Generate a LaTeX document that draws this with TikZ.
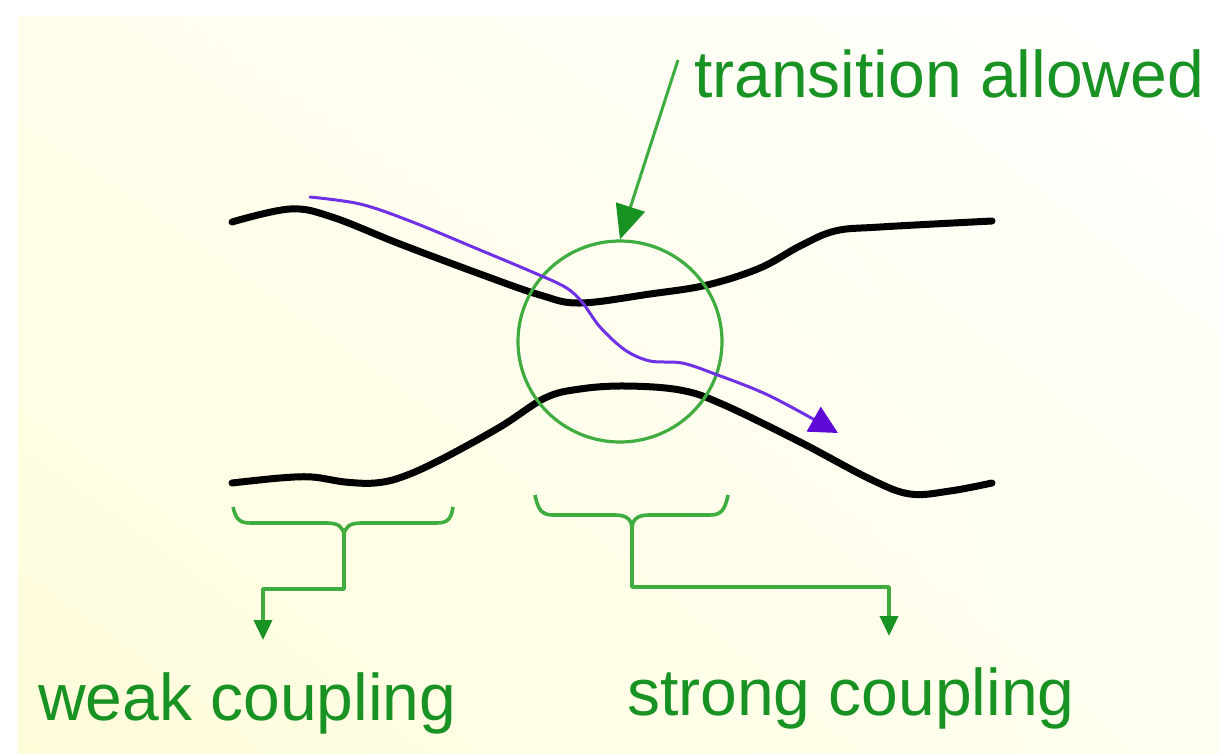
\documentclass[tikz,border=0pt]{standalone}
\usepackage{fontspec}
\setmainfont{Liberation Sans}
\usetikzlibrary{arrows.meta,shapes.geometric,shadings}
\definecolor{tgreen}{RGB}{24,146,34}
\definecolor{lgreen}{RGB}{62,172,62}
\definecolor{tpurple}{RGB}{112,48,230}
\definecolor{hpurple}{RGB}{95,10,215}
\definecolor{bgLL}{RGB}{255,252,218}
\definecolor{bgUL}{RGB}{255,254,236}
\definecolor{bgLR}{RGB}{255,255,240}
\tikzset{
  curve/.style={line width=7pt, black, line cap=round, line join=round},
  txtlabel/.style={text=tgreen, inner sep=0pt, anchor=base west, font=\fontsize{66}{72}\selectfont},
  bracepath/.style={draw=lgreen, line width=3.6pt, line join=round},
  zonestyle/.style={ellipse, draw=lgreen, line width=3.2pt, minimum width=204pt, minimum height=201pt, inner sep=0pt},
  stem/.style={lgreen, line width=3.6pt, line join=round, -{Triangle[length=20pt,width=18pt,color=tgreen]}},
}
\begin{document}
\begin{tikzpicture}[x=1pt,y=-1pt]
\useasboundingbox (0,0) rectangle (1219,753);
% background
\fill[white] (0,0) rectangle (1219,753);
\shade[lower left=bgLL, upper left=bgUL, lower right=bgLR, upper right=white] (18,16) rectangle (1219,753);

% labels
\node[txtlabel] (trans) at (694,97) {transition allowed};
\node[txtlabel] (weak) at (38,720) {weak coupling};
\node[txtlabel] (strong) at (627,715) {strong coupling};

% upper curve
\draw[curve] plot[smooth, tension=0.6] coordinates {
 (232,222) (290,209) (332,217) (400,244) (480,274) (540,295) (580,303)
 (650,294) (707,285) (760,268) (800,246) (835,231) (880,227) (992,221)};
% lower curve
\draw[curve] plot[smooth, tension=0.6] coordinates {
 (232,483) (280,478) (312,477) (345,482) (375,483) (402,477) (440,460)
 (500,427) (545,398) (580,389) (625,386) (680,390) (722,404) (800,442)
 (870,479) (910,494) (950,491) (992,483)};

% zone circle
\node[zonestyle] (zone) at (620,341.5) {};

% purple path
\draw[tpurple, line width=3pt, line cap=round,
  -{Triangle[length=28pt,width=28pt,color=hpurple]}]
 plot[smooth, tension=0.55] coordinates {
 (310,197) (360,204) (410,221) (480,250) (530,271) (565,287)
 (582,302) (600,327) (625,350) (650,361) (682,363) (715,374)
 (770,396) (838,433)};

% transition arrow
\coordinate (tstart) at (678,60);
\draw[lgreen, line width=3pt, -{Triangle[length=34pt,width=30pt,color=tgreen]}] (tstart) -- (zone.north);

% left brace
\coordinate (lcusp) at (344,536);
\draw[bracepath] (233,507) .. controls (236,520) and (240,523) .. (251,523) -- (327,523)
  .. controls (338,523) and (344,527) .. (lcusp)
  .. controls (344,527) and (350,523) .. (361,523) -- (436,523)
  .. controls (447,523) and (451,520) .. (453,507);
\coordinate (lbend1) at (344,589);
\coordinate (lbend2) at (263,589);
\coordinate (lend) at (263,640);
\draw[stem] (lcusp) -- (lbend1) -- (lbend2) -- (lend);

% right brace
\coordinate (rcusp) at (632,529);
\draw[bracepath] (535,495) .. controls (538,510) and (542,515) .. (553,515) -- (615,515)
  .. controls (626,515) and (632,519) .. (rcusp)
  .. controls (632,519) and (638,515) .. (649,515) -- (710,515)
  .. controls (721,515) and (725,510) .. (728,495);
\coordinate (rbend1) at (632,587);
\coordinate (rbend2) at (889,587);
\coordinate (rend) at (889,636);
\draw[stem] (rcusp) -- (rbend1) -- (rbend2) -- (rend);
\end{tikzpicture}
\end{document}
